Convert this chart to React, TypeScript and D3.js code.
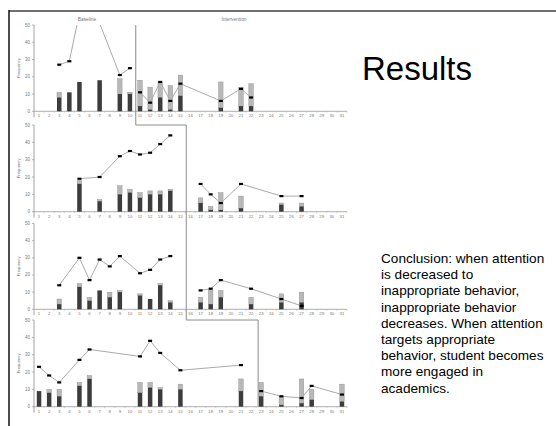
import React, { useEffect, useRef } from "react";
import * as d3 from "d3";

// session numbers on the x axis
const sessions = [
  1, 2, 3, 4, 5, 6, 7, 8, 9, 10, 11, 12, 13, 14, 15, 16, 17, 18, 19, 20, 21,
  22, 23, 24, 25, 26, 27, 28, 29, 30, 31,
];
const yTicks = [0, 10, 20, 30, 40, 50];

// panel 1
const p1BarSessions = [3, 4, 5, 7, 9, 10, 11, 12, 13, 14, 15, 19, 21, 22];
const p1Dark = [8, 11, 17, 18, 10, 10, 3, 1, 8, 1, 9, 2, 3, 3];
const p1Total = [11, 11, 17, 18, 19, 11, 18, 14, 17, 15, 21, 17, 14, 16];
const p1BaseSessions = [3, 4, 5, 7, 9, 10];
const p1BaseLine = [27, 29, 57, 51, 21, 25];
const p1IntSessions = [11, 12, 13, 14, 15, 19, 21, 22];
const p1IntLine = [11, 5, 17, 6, 16, 6, 13, 8];

// panel 2
const p2BarSessions = [5, 7, 9, 10, 11, 12, 13, 14, 17, 18, 19, 21, 25, 27];
const p2Dark = [16, 6, 10, 11, 8, 10, 10, 12, 5, 1, 1, 2, 4, 3];
const p2Total = [18, 7, 15, 13, 11, 12, 12, 13, 8, 3, 11, 9, 5, 5];
const p2BaseSessions = [5, 7, 9, 10, 11, 12, 13, 14];
const p2BaseLine = [19, 20, 32, 35, 33, 34, 39, 44];
const p2IntSessions = [17, 18, 19, 21, 25, 27];
const p2IntLine = [16, 10, 5, 16, 9, 9];

// panel 3
const p3BarSessions = [3, 5, 6, 7, 8, 9, 11, 12, 13, 14, 17, 18, 19, 22, 25, 27];
const p3Dark = [3, 13, 5, 11, 7, 10, 8, 6, 14, 4, 4, 3, 7, 3, 4, 4];
const p3Total = [6, 15, 7, 11, 10, 11, 9, 6, 15, 5, 7, 11, 11, 7, 9, 10];
const p3BaseSessions = [3, 5, 6, 7, 8, 9, 11, 12, 13, 14];
const p3BaseLine = [14, 30, 17, 29, 25, 31, 21, 23, 29, 31];
const p3IntSessions = [17, 18, 19, 22, 25, 27];
const p3IntLine = [11, 12, 17, 12, 6, 2];

// panel 4
const p4BarSessions = [1, 2, 3, 5, 6, 11, 12, 13, 15, 21, 23, 25, 27, 28, 31];
const p4Dark = [9, 8, 6, 12, 16, 8, 11, 10, 10, 9, 6, 1, 2, 4, 3];
const p4Total = [9, 10, 10, 14, 18, 14, 14, 11, 13, 16, 14, 6, 16, 10, 13];
const p4BaseSessions = [1, 2, 3, 5, 6, 11, 12, 13, 15, 21];
const p4BaseLine = [23, 18, 14, 27, 33, 29, 38, 31, 21, 24];
const p4IntSessions = [23, 25, 27, 28, 31];
const p4IntLine = [9, 6, 5, 12, 7];

// last baseline session of each panel
const phaseChanges = [10, 15, 15, 22];

const conclusion = [
  "Conclusion: when attention",
  "is decreased to",
  "inappropriate behavior,",
  "inappropriate behavior",
  "decreases. When attention",
  "targets appropriate",
  "behavior, student becomes",
  "more engaged in",
  "academics.",
];

const panels = [
  { bars: p1BarSessions, dark: p1Dark, total: p1Total, bs: p1BaseSessions, bl: p1BaseLine, is: p1IntSessions, il: p1IntLine },
  { bars: p2BarSessions, dark: p2Dark, total: p2Total, bs: p2BaseSessions, bl: p2BaseLine, is: p2IntSessions, il: p2IntLine },
  { bars: p3BarSessions, dark: p3Dark, total: p3Total, bs: p3BaseSessions, bl: p3BaseLine, is: p3IntSessions, il: p3IntLine },
  { bars: p4BarSessions, dark: p4Dark, total: p4Total, bs: p4BaseSessions, bl: p4BaseLine, is: p4IntSessions, il: p4IntLine },
];

const W = 556;
const H = 426;
const panelTop = [25, 125, 223.5, 320];
const panelBottom = [111.3, 211.7, 309.3, 406.7];
const font = "Liberation Sans, Arial, sans-serif";

const App: React.FC = () => {
  const svgRef = useRef<SVGSVGElement>(null);

  useEffect(() => {
    const svg = d3.select(svgRef.current);
    svg.selectAll("*").remove();

    const x = d3
      .scaleBand<number>()
      .domain(sessions)
      .range([34, 347])
      .padding(0);
    const bw = x.bandwidth();
    const barW = 4.5;
    const cx = (s: number) => (x(s) as number) + bw / 2;

    // frame
    svg.append("line").attr("x1", 9).attr("x2", W).attr("y1", 11).attr("y2", 11)
      .attr("stroke", "#707070").attr("stroke-width", 2);
    svg.append("line").attr("x1", 9).attr("x2", 9).attr("y1", 10).attr("y2", H)
      .attr("stroke", "#111").attr("stroke-width", 1.5);

    panels.forEach((p, i) => {
      const y = d3.scaleLinear().domain([0, 50]).range([panelBottom[i], panelTop[i]]);
      const g = svg.append("g");

      // y axis
      g.append("line").attr("x1", 34).attr("x2", 34)
        .attr("y1", y(50)).attr("y2", y(0) + 6)
        .attr("stroke", "#8a8a8a").attr("stroke-width", 0.8);
      yTicks.forEach((t) => {
        g.append("line").attr("x1", 32).attr("x2", 34).attr("y1", y(t)).attr("y2", y(t))
          .attr("stroke", "#8a8a8a").attr("stroke-width", 0.6);
        g.append("text").text(t).attr("x", 30).attr("y", y(t) + 1.5)
          .attr("text-anchor", "end").attr("font-size", 4.5).attr("fill", "#777")
          .attr("font-family", font);
      });
      g.append("text").text("Frequency")
        .attr("transform", `translate(20,${(y(0) + y(50)) / 2}) rotate(-90)`)
        .attr("text-anchor", "middle").attr("font-size", 4.2).attr("fill", "#666")
        .attr("font-family", font);

      // x axis
      g.append("line").attr("x1", 34).attr("x2", 347).attr("y1", y(0)).attr("y2", y(0))
        .attr("stroke", "#9a9a9a").attr("stroke-width", 0.8);
      sessions.forEach((s) => {
        g.append("line").attr("x1", (x(s) as number) + bw).attr("x2", (x(s) as number) + bw)
          .attr("y1", y(0)).attr("y2", y(0) + 1.5).attr("stroke", "#aaa").attr("stroke-width", 0.5);
        g.append("text").text(s).attr("x", cx(s)).attr("y", y(0) + 6)
          .attr("text-anchor", "middle").attr("font-size", 4.3).attr("fill", "#777")
          .attr("font-family", font);
      });

      // stacked bars
      p.bars.forEach((s, k) => {
        g.append("rect").attr("x", cx(s) - barW / 2).attr("width", barW)
          .attr("y", y(p.total[k])).attr("height", y(p.dark[k]) - y(p.total[k]))
          .attr("fill", "#b8b8b8").attr("stroke", "#8c8c8c").attr("stroke-width", 0.4);
        g.append("rect").attr("x", cx(s) - barW / 2).attr("width", barW)
          .attr("y", y(p.dark[k])).attr("height", y(0) - y(p.dark[k]))
          .attr("fill", "#3c3c3c");
      });

      // lines, clipped to the plot area
      const clipId = `clip${i}`;
      svg.append("clipPath").attr("id", clipId).append("rect")
        .attr("x", 34).attr("y", y(50)).attr("width", 313).attr("height", y(0) - y(50));
      const lg = g.append("g").attr("clip-path", `url(#${clipId})`);
      const line = d3.line<[number, number]>().x((d) => cx(d[0])).y((d) => y(d[1]));
      [[p.bs, p.bl], [p.is, p.il]].forEach(([ss, vs]) => {
        const pts = ss.map((s, k) => [s, vs[k]] as [number, number]);
        lg.append("path").attr("d", line(pts)).attr("fill", "none")
          .attr("stroke", "#aaaaaa").attr("stroke-width", 1);
        pts.forEach((d) => {
          lg.append("rect").attr("x", cx(d[0]) - 2).attr("y", y(d[1]) - 1.1)
            .attr("width", 4).attr("height", 2.2).attr("fill", "#000");
        });
      });
    });

    // phase change line, stepping down through the panels
    const px = (s: number) => (x(s) as number) + bw + 0.8;
    const phasePts: [number, number][] = [
      [px(phaseChanges[0]), panelTop[0]],
      [px(phaseChanges[0]), panelTop[1]],
      [px(phaseChanges[1]), panelTop[1]],
      [px(phaseChanges[2]), panelTop[3]],
      [px(phaseChanges[3]) + 1.2, panelTop[3]],
      [px(phaseChanges[3]) + 1.2, panelBottom[3]],
    ];
    svg.append("path").attr("d", d3.line()(phasePts)).attr("fill", "none")
      .attr("stroke", "#8c8c8c").attr("stroke-width", 1);

    svg.append("text").text("Baseline").attr("x", 87).attr("y", 20.5)
      .attr("text-anchor", "middle").attr("font-size", 4.8).attr("fill", "#777")
      .attr("font-family", font);
    svg.append("text").text("Intervention").attr("x", 234).attr("y", 20.5)
      .attr("text-anchor", "middle").attr("font-size", 4.8).attr("fill", "#777")
      .attr("font-family", font);

    // right-hand text
    svg.append("text").text("Results").attr("x", 362).attr("y", 80)
      .attr("font-size", 33).attr("fill", "#000").attr("font-family", font);
    conclusion.forEach((t, k) => {
      svg.append("text").text(t).attr("x", 381).attr("y", 263 + k * 16.2)
        .attr("font-size", 13.6).attr("fill", "#000").attr("font-family", font);
    });
  });

  return (
    <svg
      ref={svgRef}
      width={W}
      height={H}
      style={{ position: "absolute", left: 0, top: 0, background: "#fff" }}
    ></svg>
  );
};

export default App;
